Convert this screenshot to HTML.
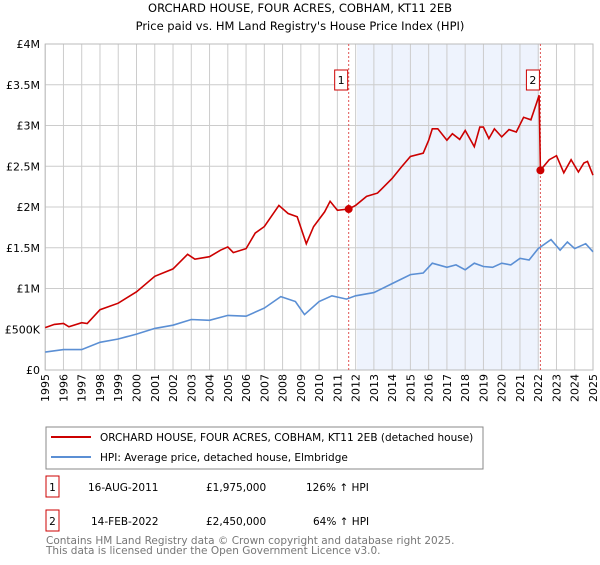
<!DOCTYPE html>
<html><head><meta charset="utf-8"><style>
body{margin:0;background:#fff;font-family:"Liberation Sans","DejaVu Sans",sans-serif;}
svg text{font-family:"DejaVu Sans","Liberation Sans",sans-serif;}
</style></head><body>
<svg id="c" width="600" height="560" xmlns="http://www.w3.org/2000/svg">
<text x="300" y="12" text-anchor="middle" font-size="11.5">ORCHARD HOUSE, FOUR ACRES, COBHAM, KT11 2EB</text>
<text x="300" y="30" text-anchor="middle" font-size="11.5">Price paid vs. HM Land Registry's House Price Index (HPI)</text>
<g id="plot"></g>
<rect x="46" y="427" width="437" height="42" fill="#fff" stroke="#888"/>
<line x1="51" y1="437" x2="91" y2="437" stroke="#cc0000" stroke-width="2"/>
<text x="100" y="441" font-size="10.5">ORCHARD HOUSE, FOUR ACRES, COBHAM, KT11 2EB (detached house)</text>
<line x1="51" y1="457" x2="91" y2="457" stroke="#5b8fd4" stroke-width="2"/>
<text x="100" y="461" font-size="10.5">HPI: Average price, detached house, Elmbridge</text>
<rect x="46" y="476" width="13" height="21" fill="none" stroke="#cc0000"/>
<text x="52.5" y="491" font-size="10.5" text-anchor="middle">1</text>
<text x="88" y="491" font-size="10.5">16-AUG-2011</text>
<text x="206" y="491" font-size="10.5">£1,975,000</text>
<text x="306" y="491" font-size="10.5">126% ↑ HPI</text>
<rect x="46" y="510" width="13" height="21" fill="none" stroke="#cc0000"/>
<text x="52.5" y="525" font-size="10.5" text-anchor="middle">2</text>
<text x="91" y="525" font-size="10.5">14-FEB-2022</text>
<text x="206" y="525" font-size="10.5">£2,450,000</text>
<text x="313" y="525" font-size="10.5">64% ↑ HPI</text>
<text x="46" y="544" font-size="10.5" fill="#777">Contains HM Land Registry data © Crown copyright and database right 2025.</text>
<text x="46" y="554" font-size="10.5" fill="#777">This data is licensed under the Open Government Licence v3.0.</text>
</svg>
<script>
const redYears=[1995,1995.5,1996,1996.3,1997,1997.3,1998,1999,2000,2001,2002,2002.8,2003.2,2004,2004.6,2005,2005.3,2006,2006.5,2007,2007.8,2008.3,2008.8,2009.3,2009.7,2010.3,2010.6,2011,2011.62,2012,2012.6,2013.2,2014,2014.5,2015,2015.7,2016,2016.2,2016.5,2017,2017.3,2017.7,2018,2018.5,2018.8,2019,2019.3,2019.6,2020,2020.4,2020.8,2021.2,2021.6,2021.9,2022.05,2022.12,2022.6,2023,2023.4,2023.8,2024.2,2024.5,2024.7,2025];
const redValues=[0.52,0.56,0.57,0.53,0.58,0.57,0.74,0.82,0.96,1.15,1.24,1.42,1.36,1.39,1.47,1.51,1.44,1.49,1.68,1.76,2.02,1.92,1.88,1.55,1.76,1.94,2.07,1.96,1.975,2.02,2.13,2.17,2.35,2.49,2.62,2.66,2.82,2.96,2.96,2.82,2.90,2.83,2.94,2.74,2.98,2.98,2.84,2.96,2.86,2.95,2.92,3.10,3.07,3.27,3.37,2.45,2.58,2.63,2.42,2.58,2.43,2.54,2.56,2.39];
const hpiYears=[1995,1996,1997,1998,1999,2000,2001,2002,2003,2004,2005,2006,2007,2007.9,2008.7,2009.2,2010,2010.7,2011.5,2012,2013,2014,2015,2015.7,2016.2,2017,2017.5,2018,2018.5,2019,2019.5,2020,2020.5,2021,2021.5,2022,2022.7,2023.2,2023.6,2024,2024.6,2025];
const hpiValues=[0.22,0.25,0.25,0.34,0.38,0.44,0.51,0.55,0.62,0.61,0.67,0.66,0.76,0.90,0.84,0.68,0.84,0.91,0.87,0.91,0.95,1.06,1.17,1.19,1.31,1.26,1.29,1.23,1.31,1.27,1.26,1.31,1.29,1.37,1.35,1.49,1.60,1.47,1.57,1.49,1.55,1.45];
const saleYears=[2011.62,2022.12];
const saleValues=[1.975,2.45];
const yTicks=[0,0.5,1,1.5,2,2.5,3,3.5,4];
const yTickLabels=["£0","£500K","£1M","£1.5M","£2M","£2.5M","£3M","£3.5M","£4M"];
const shadeRange=[2012.07,2022.05];

const NS="http://www.w3.org/2000/svg";
const X0=45.2,X1=593,Y0=370,Y1=44;
const xs=y=>X0+(y-1995)/30*(X1-X0);
const ys=v=>Y0-v/4*(Y0-Y1);
const g=document.getElementById('plot');
function mk(t,a){const e=document.createElementNS(NS,t);for(const k in a)e.setAttribute(k,a[k]);g.appendChild(e);return e;}
let e=mk('rect',{x:xs(shadeRange[0]),y:Y1,width:xs(shadeRange[1])-xs(shadeRange[0]),height:Y0-Y1,fill:'#eef3fd'});


for(let yr=1995;yr<=2025;yr++){
 e=mk('line',{x1:xs(yr),x2:xs(yr),y1:Y1,y2:Y0,stroke:'#ccc','stroke-width':1});
 
 
 e=mk('text',{x:0,y:0,'font-size':11,'text-anchor':'end',transform:`translate(${xs(yr)+4},374) rotate(-90)`});
 e.textContent=yr;
 
 
}
yTicks.forEach((v,i)=>{
 e=mk('line',{x1:X0,x2:X1,y1:ys(v),y2:ys(v),stroke:'#ccc','stroke-width':1});
 
 
 e=mk('text',{x:40,y:ys(v)+4,'font-size':11,'text-anchor':'end'});
 e.textContent=yTickLabels[i];
 
 
});
e=mk('rect',{x:X0,y:Y1,width:X1-X0,height:Y0-Y1,fill:'none',stroke:'#bbb'});


saleYears.forEach((s,i)=>{
 e=mk('line',{x1:xs(s),x2:xs(s),y1:Y1,y2:Y0,stroke:'#e05555','stroke-dasharray':'2,2','stroke-width':1});
 
 
});
function path(xsArr,vs,col,name){
 const d=xsArr.map((x,i)=>(i?'L':'M')+xs(x).toFixed(1)+','+ys(vs[i]).toFixed(1)).join('');
 e=mk('path',{d:d,fill:'none',stroke:col,'stroke-width':1.6});
 
 
}
path(hpiYears,hpiValues,'#5b8fd4','hpi-line');
path(redYears,redValues,'#cc0000','property-price-line');
saleYears.forEach((s,i)=>{
 e=mk('circle',{cx:xs(s),cy:ys(saleValues[i]),r:4,fill:'#cc0000'});
 
 
 e=mk('rect',{x:xs(s)-14,y:70,width:13,height:20,fill:'#fff',stroke:'#cc0000'});
 
 
 e=mk('text',{x:xs(s)-7.5,y:84,'font-size':11,'text-anchor':'middle'});
 e.textContent=String(i+1);
 
 
});
</script>
</body></html>
